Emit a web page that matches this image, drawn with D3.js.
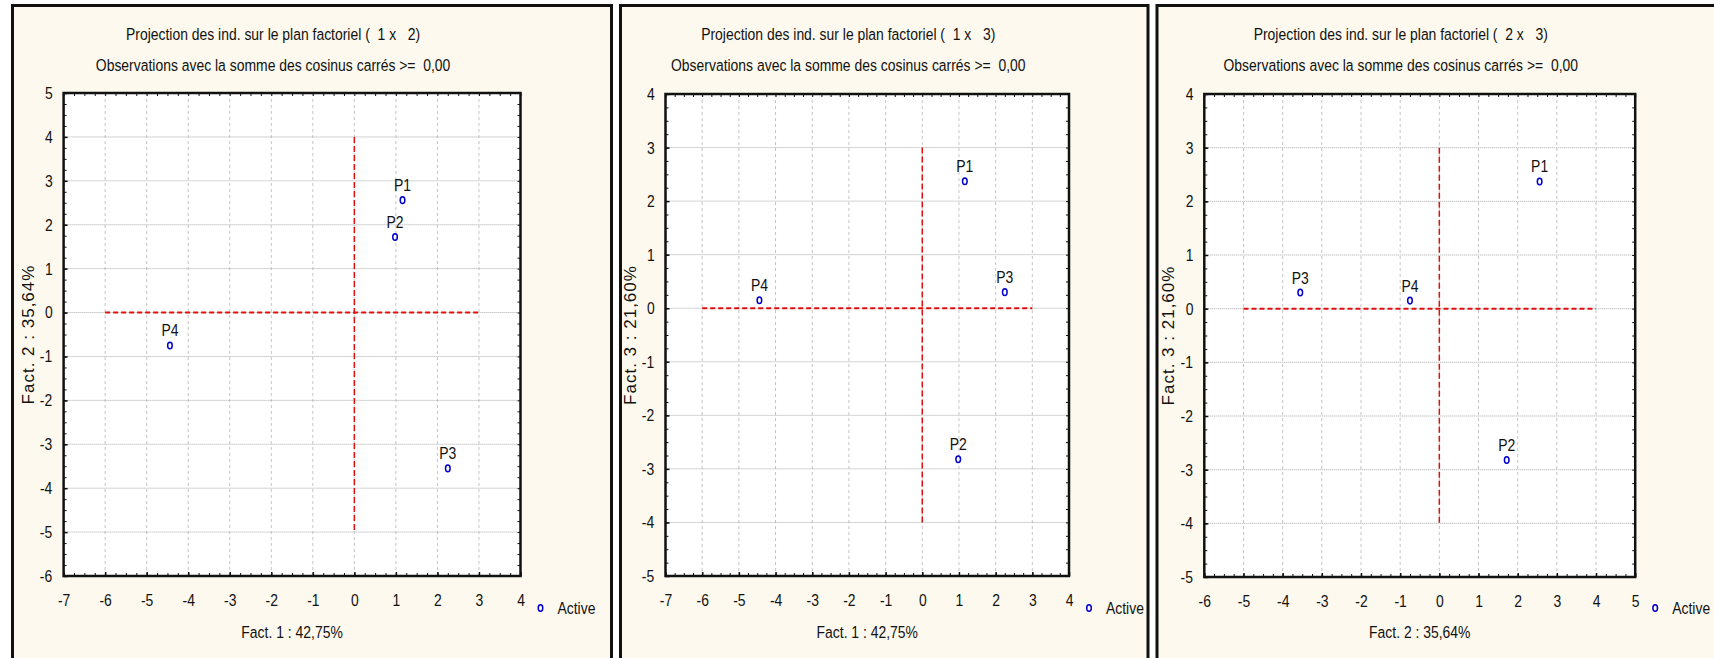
<!DOCTYPE html>
<html>
<head>
<meta charset="utf-8">
<script src="https://cdn.jsdelivr.net/npm/d3@7"></script>
<style>
  body { margin: 0; background: #fff; }
  svg text { font-family: "Liberation Sans", Arial, sans-serif; fill: #111; white-space: pre; }
  .sq { transform-box: fill-box; transform-origin: center; transform: scaleX(0.82); }
  .sql { transform-box: fill-box; transform-origin: left center; transform: scaleX(0.82); }
</style>
</head>
<body>
<svg id="chart" width="1714" height="658"></svg>
<script>
// Individus et coordonnées factorielles
const individus = ['P1', 'P2', 'P3', 'P4'];
const fact1 = [1.16, 0.98, 2.25, -4.44];
const fact2 = [2.56, 1.72, -3.55, -0.75];
const fact3 = [2.37, -2.82, 0.30, 0.15];

// Graduations des axes
const ticksF1 = [-7, -6, -5, -4, -3, -2, -1, 0, 1, 2, 3, 4];
const ticksF2x = [-6, -5, -4, -3, -2, -1, 0, 1, 2, 3, 4, 5];
const ticksF2y = [-6, -5, -4, -3, -2, -1, 0, 1, 2, 3, 4, 5];
const ticksF3 = [-5, -4, -3, -2, -1, 0, 1, 2, 3, 4];

// Libellés
const axisTitles = { f1: 'Fact. 1 : 42,75%', f2: 'Fact. 2 : 35,64%', f3: 'Fact. 3 : 21,60%' };
const subtitle = 'Observations avec la somme des cosinus carrés >=  0,00';
const legendLabel = 'Active';

const svg = d3.select('#chart');

// Les trois panneaux
const panels = [
    { x0: 12.5, x1: 611.5, plot: [63.6, 520.5, 93, 576], xs: fact1, ys: fact2, xt: ticksF1, yt: ticksF2y,
      xTitle: axisTitles.f1, yTitle: axisTitles.f2, title: 'Projection des ind. sur le plan factoriel (  1 x   2)' },
    { x0: 620.5, x1: 1148, plot: [665.5, 1069, 94, 576], xs: fact1, ys: fact3, xt: ticksF1, yt: ticksF3,
      xTitle: axisTitles.f1, yTitle: axisTitles.f3, title: 'Projection des ind. sur le plan factoriel (  1 x   3)' },
    { x0: 1157, x1: 1740, plot: [1204.3, 1635.2, 94, 577], xs: fact2, ys: fact3, xt: ticksF2x, yt: ticksF3,
      xTitle: axisTitles.f2, yTitle: axisTitles.f3, title: 'Projection des ind. sur le plan factoriel (  2 x   3)' }
];

panels.forEach(p => drawPanel(p));

function drawPanel(p) {
    const [left, right, top, bottom] = p.plot;
    const g = svg.append('g');

    // cadre du panneau
    g.append('rect')
        .attr('x', p.x0).attr('y', 5.5)
        .attr('width', p.x1 - p.x0).attr('height', 700)
        .attr('fill', '#fdf9ee')
        .attr('stroke', '#111').attr('stroke-width', 3);

    const x = d3.scaleLinear()
        .domain(d3.extent(p.xt))
        .range([left, right]);
    const y = d3.scaleLinear()
        .domain(d3.extent(p.yt))
        .range([bottom, top]);

    g.append('rect')
        .attr('x', left).attr('y', top)
        .attr('width', right - left).attr('height', bottom - top)
        .attr('fill', '#fff');

    // grille
    g.selectAll('.vgrid')
        .data(p.xt.slice(1, -1))
        .enter().append('line')
        .attr('x1', d => x(d)).attr('x2', d => x(d))
        .attr('y1', top).attr('y2', bottom)
        .attr('stroke', '#c4c4c4').attr('stroke-dasharray', '3,3');
    g.selectAll('.hgrid')
        .data(p.yt.slice(1, -1))
        .enter().append('line')
        .attr('x1', left).attr('x2', right)
        .attr('y1', d => y(d)).attr('y2', d => y(d))
        .attr('stroke', '#a8a8a8').attr('stroke-dasharray', '1,1');

    // axes rouges en pointillé (origine)
    const xd = x.domain(), yd = y.domain();
    g.append('line')
        .attr('x1', x(xd[0] + 1)).attr('x2', x(xd[1] - 1))
        .attr('y1', y(0)).attr('y2', y(0))
        .attr('stroke', '#e01010').attr('stroke-width', 2)
        .attr('stroke-dasharray', '5,3');
    g.append('line')
        .attr('x1', x(0)).attr('x2', x(0))
        .attr('y1', y(yd[1] - 1)).attr('y2', y(yd[0] + 1))
        .attr('stroke', '#e01010').attr('stroke-width', 1.5)
        .attr('stroke-dasharray', '6,3');

    // graduations vers l'intérieur (majeures + mineures)
    const minorX = d3.range(xd[0], xd[1] + 0.001, 0.25);
    const minorY = d3.range(yd[0], yd[1] + 0.001, 0.25);
    const noLab = () => '';
    g.append('g').attr('transform', `translate(0,${bottom})`)
        .call(d3.axisBottom(x).tickValues(minorX).tickSize(-3).tickFormat(noLab));
    g.append('g').attr('transform', `translate(0,${top})`)
        .call(d3.axisTop(x).tickValues(minorX).tickSize(-3).tickFormat(noLab));
    g.append('g').attr('transform', `translate(${left},0)`)
        .call(d3.axisLeft(y).tickValues(minorY).tickSize(-3).tickFormat(noLab));
    g.append('g').attr('transform', `translate(${right},0)`)
        .call(d3.axisRight(y).tickValues(minorY).tickSize(-3).tickFormat(noLab));

    const xAxis = g.append('g').attr('transform', `translate(0,${bottom})`)
        .call(d3.axisBottom(x).tickValues(p.xt).tickSize(-4).tickPadding(18).tickFormat(d => String(d)));
    const yAxis = g.append('g').attr('transform', `translate(${left},0)`)
        .call(d3.axisLeft(y).tickValues(p.yt).tickSize(-4).tickPadding(10).tickFormat(d => String(d)));
    [xAxis, yAxis].forEach(a => {
        a.selectAll('line').attr('stroke-width', 1.5);
        a.selectAll('text').attr('class', 'sq')
            .style('font-size', '17px').attr('fill', '#111');
    });
    g.selectAll('.tick line').attr('stroke', '#111');
    g.selectAll('.domain').remove();

    // cadre de la zone de tracé
    g.append('rect')
        .attr('x', left).attr('y', top)
        .attr('width', right - left).attr('height', bottom - top)
        .attr('fill', 'none').attr('stroke', '#111').attr('stroke-width', 2.5);

    // titres
    const cx = (left + right) / 2;
    g.append('text').attr('class', 'sq')
        .attr('x', cx - 19).attr('y', 40)
        .attr('text-anchor', 'middle').style('font-size', '17px')
        .text(p.title);
    g.append('text').attr('class', 'sq')
        .attr('x', cx - 19).attr('y', 71)
        .attr('text-anchor', 'middle').style('font-size', '17px')
        .text(subtitle);
    g.append('text').attr('class', 'sq')
        .attr('x', cx).attr('y', 638)
        .attr('text-anchor', 'middle').style('font-size', '17px')
        .text(p.xTitle);
    g.append('text')
        .attr('transform', `translate(${left - 30},${(top + bottom) / 2}) rotate(-90)`)
        .attr('text-anchor', 'middle').style('font-size', '17px')
        .style('letter-spacing', '1px')
        .text(p.yTitle);

    // points
    const pts = individus.map((name, i) => ({ name: name, x: p.xs[i], y: p.ys[i] }));
    g.selectAll('.pt')
        .data(pts)
        .enter().append('ellipse')
        .attr('cx', d => x(d.x)).attr('cy', d => y(d.y))
        .attr('rx', 2.3).attr('ry', 3.3)
        .attr('fill', 'none').attr('stroke', '#0000cc').attr('stroke-width', 1.5);
    g.selectAll('.lbl')
        .data(pts)
        .enter().append('text').attr('class', 'sq')
        .attr('x', d => x(d.x)).attr('y', d => y(d.y) - 9)
        .attr('text-anchor', 'middle').style('font-size', '17px')
        .text(d => d.name);

    // légende
    g.append('ellipse')
        .attr('cx', right + 20).attr('cy', 608)
        .attr('rx', 2.3).attr('ry', 3.3)
        .attr('fill', 'none').attr('stroke', '#0000cc').attr('stroke-width', 1.5);
    g.append('text').attr('class', 'sql')
        .attr('x', right + 37).attr('y', 614)
        .style('font-size', '17px')
        .text(legendLabel);
}
</script>
</body>
</html>
